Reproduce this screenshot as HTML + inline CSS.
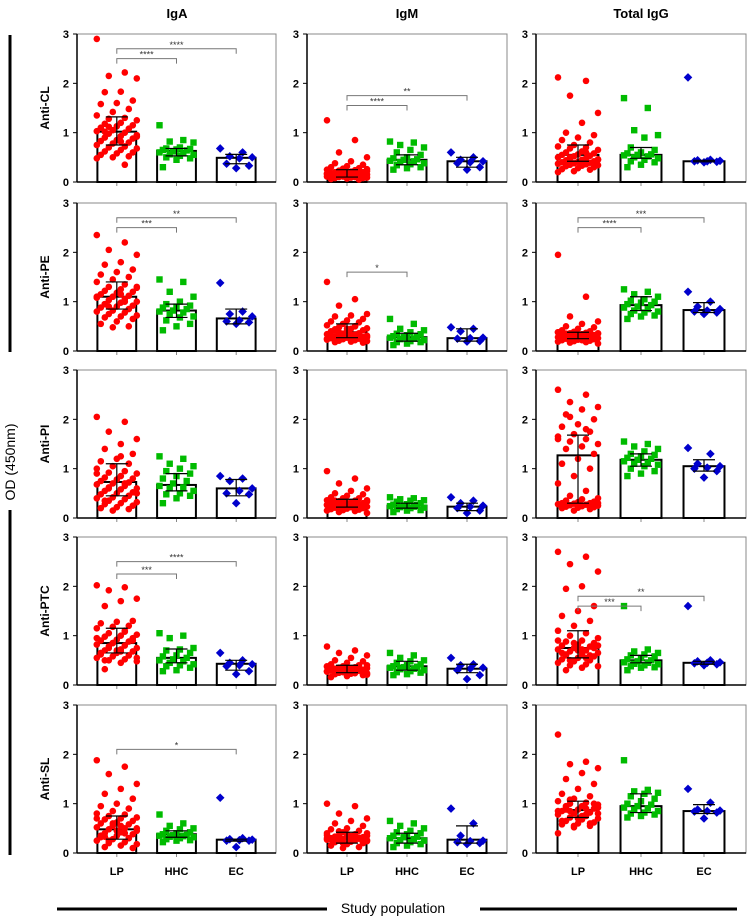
<!DOCTYPE html>
<html><head><meta charset="utf-8"><style>
html,body{margin:0;padding:0;background:#fff;}
svg{display:block;font-family:"Liberation Sans",Arial,sans-serif;}
</style></head><body>
<svg id="fig" width="751" height="921" viewBox="0 0 751 921" xmlns="http://www.w3.org/2000/svg">
<text x="177" y="18" font-size="13" font-weight="bold" text-anchor="middle">IgA</text>
<text x="407" y="18" font-size="13" font-weight="bold" text-anchor="middle">IgM</text>
<text x="641" y="18" font-size="13" font-weight="bold" text-anchor="middle">Total IgG</text>
<line x1="10" y1="35" x2="10" y2="352" stroke="#000" stroke-width="3"/>
<line x1="10" y1="510" x2="10" y2="855" stroke="#000" stroke-width="3"/>
<text transform="translate(15,462) rotate(-90)" font-size="14" text-anchor="middle">OD (450nm)</text>
<text x="393" y="913" font-size="14" text-anchor="middle">Study population</text>
<line x1="57" y1="909" x2="327" y2="909" stroke="#000" stroke-width="3"/>
<line x1="480" y1="909" x2="737" y2="909" stroke="#000" stroke-width="3"/>
<g id="panels"></g>
</svg>
<script>
const groups=["LP","HHC","EC"];
const rowLabels=["Anti-CL","Anti-PE","Anti-PI","Anti-PTC","Anti-SL"];
const yTicks=[0,1,2,3];
const yTickLabels=["0","1","2","3"];
const lpVals=[
[2.9,2.22,2.15,2.1,1.83,1.82,1.65,1.6,1.58,1.48,1.42,1.35,1.3,1.28,1.25,1.2,1.18,1.15,1.13,1.1,1.08,1.05,1.03,1.0,0.98,0.95,0.93,0.9,0.88,0.85,0.83,0.8,0.78,0.75,0.72,0.7,0.68,0.65,0.62,0.6,0.58,0.55,0.52,0.5,0.48,0.35,1.12,0.92,0.82,1.02],
[1.25,0.85,0.6,0.5,0.42,0.38,0.35,0.32,0.3,0.28,0.27,0.25,0.24,0.23,0.22,0.21,0.2,0.2,0.19,0.18,0.18,0.17,0.16,0.16,0.15,0.15,0.14,0.14,0.13,0.13,0.12,0.12,0.11,0.11,0.1,0.1,0.09,0.09,0.08,0.08,0.07,0.06,0.05,0.22,0.17,0.12,0.19,0.26,0.14,0.1],
[2.12,2.05,1.75,1.4,1.2,1.0,0.95,0.9,0.85,0.8,0.75,0.72,0.7,0.68,0.65,0.62,0.6,0.58,0.56,0.55,0.53,0.52,0.5,0.48,0.47,0.46,0.45,0.44,0.42,0.41,0.4,0.39,0.38,0.37,0.36,0.35,0.34,0.33,0.32,0.3,0.28,0.26,0.25,0.22,0.2,0.6,0.5,0.45,0.42,0.38],
[2.35,2.2,2.05,1.95,1.8,1.75,1.65,1.6,1.55,1.5,1.45,1.4,1.35,1.3,1.28,1.25,1.22,1.2,1.18,1.15,1.12,1.1,1.08,1.05,1.03,1.0,0.98,0.95,0.92,0.9,0.88,0.85,0.82,0.8,0.78,0.75,0.72,0.7,0.68,0.65,0.6,0.55,0.5,0.48,1.1,1.0,0.9,1.3,1.15,0.95],
[1.4,1.05,0.92,0.75,0.72,0.7,0.65,0.62,0.6,0.58,0.55,0.52,0.5,0.48,0.46,0.45,0.44,0.42,0.4,0.38,0.36,0.35,0.34,0.33,0.32,0.31,0.3,0.29,0.28,0.27,0.26,0.25,0.24,0.23,0.22,0.21,0.2,0.19,0.18,0.17,0.45,0.4,0.35,0.3,0.25,0.5,0.38,0.28,0.33,0.42],
[1.95,1.1,0.7,0.6,0.55,0.5,0.48,0.45,0.42,0.4,0.39,0.38,0.37,0.36,0.35,0.34,0.33,0.32,0.31,0.3,0.3,0.29,0.28,0.28,0.27,0.26,0.25,0.25,0.24,0.23,0.22,0.21,0.2,0.19,0.18,0.17,0.15,0.3,0.35,0.32,0.27,0.29,0.33,0.26,0.38,0.31,0.24,0.36,0.22,0.28],
[2.05,1.95,1.75,1.6,1.5,1.4,1.3,1.2,1.15,1.1,1.05,1.0,0.95,0.92,0.9,0.85,0.82,0.8,0.78,0.75,0.72,0.7,0.68,0.65,0.62,0.6,0.58,0.55,0.52,0.5,0.48,0.45,0.42,0.4,0.38,0.35,0.32,0.3,0.28,0.25,0.22,0.2,0.18,0.15,0.9,0.7,0.6,0.5,1.25,0.35],
[0.95,0.8,0.7,0.6,0.55,0.5,0.48,0.45,0.42,0.4,0.38,0.36,0.35,0.34,0.33,0.32,0.31,0.3,0.3,0.29,0.28,0.27,0.26,0.25,0.24,0.23,0.22,0.21,0.2,0.19,0.18,0.17,0.16,0.15,0.14,0.12,0.1,0.3,0.35,0.25,0.28,0.33,0.22,0.4,0.27,0.31,0.2,0.36,0.26,0.24],
[2.6,2.5,2.35,2.25,2.2,2.1,2.0,1.9,1.85,1.75,1.7,1.65,1.6,1.55,1.5,1.45,1.4,1.3,1.2,1.1,1.0,0.85,0.7,0.55,0.45,0.4,0.38,0.35,0.33,0.32,0.3,0.3,0.29,0.28,0.27,0.26,0.25,0.24,0.23,0.22,0.21,0.2,0.18,0.15,1.6,1.8,2.05,0.3,0.25,0.35],
[2.02,1.98,1.92,1.75,1.7,1.6,1.3,1.28,1.25,1.2,1.18,1.15,1.1,1.05,1.02,1.0,0.98,0.95,0.92,0.9,0.88,0.85,0.82,0.8,0.78,0.75,0.72,0.7,0.68,0.65,0.62,0.6,0.58,0.55,0.52,0.5,0.48,0.45,0.32,0.9,0.7,0.65,0.6,0.85,0.95,1.08,0.75,0.55,0.68,0.5],
[0.78,0.7,0.65,0.6,0.55,0.5,0.48,0.45,0.42,0.4,0.38,0.37,0.36,0.35,0.34,0.33,0.32,0.31,0.3,0.3,0.29,0.28,0.27,0.26,0.25,0.24,0.23,0.22,0.2,0.18,0.16,0.3,0.35,0.28,0.32,0.25,0.4,0.27,0.33,0.22,0.36,0.29,0.31,0.26,0.38,0.24,0.34,0.21,0.3,0.27],
[2.7,2.6,2.45,2.3,2.0,1.95,1.6,1.5,1.4,1.3,1.2,1.1,1.05,1.0,0.95,0.9,0.88,0.85,0.82,0.8,0.78,0.75,0.72,0.7,0.68,0.65,0.62,0.6,0.58,0.55,0.52,0.5,0.48,0.45,0.42,0.4,0.38,0.35,0.3,0.75,0.7,0.65,0.6,0.85,0.9,0.55,0.5,0.8,0.72,0.62],
[1.88,1.75,1.6,1.4,1.3,1.2,1.1,1.0,0.95,0.9,0.85,0.8,0.78,0.75,0.72,0.7,0.68,0.65,0.62,0.6,0.58,0.55,0.52,0.5,0.48,0.45,0.42,0.4,0.38,0.35,0.32,0.3,0.28,0.25,0.22,0.2,0.18,0.15,0.12,0.1,0.45,0.35,0.3,0.6,0.7,0.4,0.25,0.5,0.55,0.33],
[1.0,0.95,0.8,0.7,0.65,0.6,0.55,0.5,0.48,0.45,0.42,0.4,0.38,0.36,0.35,0.34,0.33,0.32,0.31,0.3,0.29,0.28,0.27,0.26,0.25,0.24,0.23,0.22,0.2,0.18,0.15,0.12,0.1,0.3,0.35,0.28,0.4,0.25,0.33,0.22,0.38,0.27,0.31,0.2,0.36,0.29,0.44,0.26,0.32,0.24],
[2.4,1.85,1.8,1.72,1.62,1.5,1.4,1.3,1.2,1.15,1.1,1.05,1.02,1.0,0.98,0.95,0.92,0.9,0.88,0.85,0.82,0.8,0.78,0.75,0.72,0.7,0.68,0.65,0.62,0.6,0.58,0.55,0.52,0.4,0.9,0.85,0.8,0.75,0.95,1.0,0.7,0.65,0.6,0.55,0.85,0.78,1.08,0.92,0.72,0.88]
];
const hhcVals=[
[1.15,0.85,0.82,0.8,0.7,0.68,0.67,0.66,0.65,0.64,0.62,0.6,0.58,0.56,0.55,0.53,0.5,0.48,0.45,0.3],
[0.82,0.8,0.75,0.7,0.65,0.6,0.55,0.5,0.48,0.46,0.45,0.43,0.42,0.4,0.38,0.36,0.34,0.3,0.28,0.25],
[1.7,1.5,1.05,0.95,0.9,0.7,0.65,0.6,0.58,0.56,0.55,0.54,0.52,0.5,0.48,0.45,0.42,0.4,0.35,0.3],
[1.45,1.4,1.2,1.1,1.0,0.95,0.92,0.9,0.88,0.85,0.82,0.8,0.78,0.75,0.7,0.68,0.62,0.55,0.5,0.42],
[0.65,0.55,0.45,0.42,0.38,0.35,0.34,0.32,0.3,0.29,0.28,0.27,0.25,0.24,0.22,0.2,0.18,0.18,0.15,0.12],
[1.25,1.2,1.15,1.1,1.05,1.02,1.0,0.98,0.95,0.93,0.9,0.88,0.85,0.82,0.8,0.78,0.75,0.72,0.7,0.65],
[1.25,1.2,1.1,1.05,1.0,0.95,0.9,0.85,0.8,0.75,0.7,0.65,0.62,0.6,0.55,0.5,0.48,0.45,0.4,0.3],
[0.42,0.4,0.38,0.36,0.35,0.33,0.3,0.28,0.27,0.26,0.25,0.24,0.23,0.22,0.21,0.2,0.18,0.16,0.15,0.12],
[1.55,1.5,1.45,1.4,1.35,1.3,1.28,1.25,1.22,1.2,1.18,1.15,1.12,1.1,1.08,1.05,1.0,0.95,0.9,0.85],
[1.05,1.0,0.95,0.75,0.72,0.7,0.65,0.6,0.58,0.55,0.52,0.5,0.48,0.45,0.42,0.4,0.38,0.35,0.3,0.28],
[0.65,0.6,0.55,0.5,0.48,0.45,0.42,0.4,0.38,0.37,0.36,0.35,0.33,0.32,0.3,0.28,0.26,0.25,0.22,0.2],
[1.6,0.72,0.68,0.65,0.62,0.6,0.58,0.55,0.52,0.5,0.48,0.46,0.45,0.43,0.42,0.4,0.38,0.36,0.35,0.3],
[0.78,0.6,0.55,0.5,0.48,0.45,0.42,0.4,0.38,0.37,0.36,0.35,0.34,0.33,0.32,0.3,0.28,0.26,0.25,0.22],
[0.65,0.6,0.55,0.5,0.45,0.42,0.4,0.38,0.35,0.33,0.32,0.3,0.28,0.26,0.25,0.22,0.2,0.18,0.15,0.12],
[1.88,1.28,1.25,1.22,1.2,1.15,1.1,1.05,1.0,0.98,0.95,0.92,0.9,0.88,0.85,0.82,0.8,0.78,0.75,0.72]
];
const ecVals=[
[0.68,0.6,0.52,0.5,0.48,0.37,0.33,0.28],
[0.6,0.5,0.45,0.42,0.4,0.38,0.3,0.25],
[2.12,0.45,0.44,0.43,0.42,0.42,0.41,0.4],
[1.38,0.8,0.75,0.7,0.62,0.6,0.58,0.55],
[0.48,0.45,0.4,0.27,0.26,0.25,0.2,0.19],
[1.2,1.0,0.9,0.85,0.82,0.8,0.78,0.75],
[0.85,0.8,0.75,0.6,0.55,0.5,0.48,0.3],
[0.42,0.35,0.3,0.25,0.23,0.2,0.15,0.1],
[1.42,1.3,1.1,1.05,1.02,1.0,0.95,0.82],
[0.65,0.5,0.45,0.42,0.4,0.38,0.28,0.22],
[0.55,0.42,0.4,0.35,0.33,0.3,0.2,0.12],
[1.6,0.5,0.48,0.46,0.45,0.44,0.42,0.4],
[1.12,0.3,0.28,0.27,0.26,0.25,0.25,0.12],
[0.9,0.6,0.35,0.25,0.24,0.22,0.2,0.18],
[1.3,1.02,0.88,0.86,0.85,0.84,0.82,0.7]
];
const barVals=[[1.02,0.63,0.49],[0.17,0.45,0.42],[0.55,0.55,0.42],[1.1,0.82,0.66],[0.38,0.28,0.26],[0.32,0.93,0.83],[0.73,0.67,0.6],[0.3,0.25,0.23],[1.27,1.18,1.05],[0.85,0.55,0.43],[0.32,0.38,0.33],[0.75,0.5,0.45],[0.48,0.38,0.27],[0.32,0.3,0.27],[0.87,0.95,0.85]];
const errLo=[[0.75,0.53,0.37],[0.1,0.35,0.3],[0.42,0.48,0.41],[0.85,0.68,0.55],[0.27,0.2,0.2],[0.25,0.82,0.78],[0.45,0.55,0.45],[0.22,0.2,0.15],[0.3,1.05,0.95],[0.65,0.45,0.3],[0.25,0.3,0.25],[0.55,0.45,0.42],[0.28,0.32,0.24],[0.2,0.2,0.2],[0.72,0.82,0.8]];
const errHi=[[1.32,0.68,0.56],[0.25,0.55,0.5],[0.75,0.7,0.44],[1.4,0.95,0.85],[0.55,0.36,0.45],[0.38,1.1,0.98],[1.1,0.9,0.78],[0.38,0.3,0.3],[1.68,1.3,1.18],[1.15,0.73,0.5],[0.4,0.48,0.42],[1.1,0.6,0.48],[0.75,0.45,0.28],[0.42,0.4,0.55],[1.05,1.2,0.98]];
const sigPanel=[0,0,1,1,3,3,4,5,5,9,9,11,11,12];
const sigTarget=[1,2,1,2,1,2,1,1,2,1,2,1,2,2];
const sigY=[2.5,2.7,1.55,1.75,2.5,2.7,1.6,2.5,2.7,2.25,2.5,1.6,1.8,2.1];
const sigLabel=["****","****","****","**","***","**","*","****","***","***","****","***","**","*"];

const colX=[77,307,536], colW=[199,200,210];
const rowT=[34,203,370,537,705], plotH=148;
const colors=["#ff0000","#00bb00","#0000cc"];
const NS="http://www.w3.org/2000/svg";
const root=document.getElementById("panels");
function mk(tag,attrs,parent){const e=document.createElementNS(NS,tag);for(const k in attrs)e.setAttribute(k,attrs[k]);(parent||root).appendChild(e);return e;}

for(let p=0;p<15;p++){
  const r=Math.floor(p/3), c=p%3;
  const x0=colX[c], w=colW[c], top=rowT[r], bot=top+plotH;
  const yS=v=>bot-v/3*plotH;
  const xS=g=>x0+w*(0.2+0.3*g);
  const bw=w*0.195;
  const g=mk("g",{});
  
  
  const fr=mk("rect",{x:x0,y:top,width:w,height:plotH,fill:"none",stroke:"#888","stroke-width":1},g);
  
  
  const ya=mk("line",{x1:x0,y1:top,x2:x0,y2:bot,stroke:"#000","stroke-width":1.5},g);
  
  
  const xa=mk("line",{x1:x0,y1:bot,x2:x0+w,y2:bot,stroke:"#000","stroke-width":1.5},g);
  
  
  yTicks.forEach((t,i)=>{
    const tk=mk("line",{x1:x0-4,y1:yS(t),x2:x0,y2:yS(t),stroke:"#000","stroke-width":1},g);
    
    
    const tl=mk("text",{x:x0-8,y:yS(t)+4,"font-size":11,"font-weight":"bold","text-anchor":"end"},g);
    tl.textContent=yTickLabels[i];
    
    
  });
  if(c===0){
    const rl=mk("text",{transform:`translate(${x0-28},${(top+bot)/2}) rotate(-90)`,"font-size":12,"font-weight":"bold","text-anchor":"middle"},g);
    rl.textContent=rowLabels[r];
    
    
  }
  const sets=[lpVals[p],hhcVals[p],ecVals[p]];
  for(let k=0;k<3;k++){
    const cx=xS(k);
    const xt=mk("line",{x1:cx,y1:bot,x2:cx,y2:bot+4,stroke:"#888","stroke-width":1},g);
    
    
    if(r===4){
      const xl=mk("text",{x:cx,y:bot+22,"font-size":11,"font-weight":"bold","text-anchor":"middle"},g);
      xl.textContent=groups[k];
      
      
    }
    const b=mk("rect",{x:cx-bw/2,y:yS(barVals[p][k]),width:bw,height:bot-yS(barVals[p][k]),fill:"#fff",stroke:"#000","stroke-width":2},g);
    
    
    const vals=sets[k], hw=k===0?20:(k===1?17:16);
    vals.forEach((v,i)=>{
      const px=cx+(((i*7)%11)-5)/5*hw, py=yS(v);
      let m;
      if(k===0) m=mk("circle",{cx:px,cy:py,r:3.3,fill:colors[0]},g);
      else if(k===1) m=mk("rect",{x:px-3.2,y:py-3.2,width:6.4,height:6.4,fill:colors[1]},g);
      else m=mk("polygon",{points:`${px},${py-4.3} ${px+4.3},${py} ${px},${py+4.3} ${px-4.3},${py}`,fill:colors[2]},g);
      
      
    });
  }
  for(let k=0;k<3;k++){
    const cx=xS(k), lo=yS(errLo[p][k]), hi=yS(errHi[p][k]);
    const eb=mk("path",{d:`M${cx},${lo}V${hi}M${cx-11},${lo}H${cx+11}M${cx-11},${hi}H${cx+11}`,stroke:"#000","stroke-width":1.2,fill:"none"},g);
    
    
  }
  sigPanel.forEach((sp,i)=>{
    if(sp!==p)return;
    const a=xS(0), bx=xS(sigTarget[i]), y=yS(sigY[i]);
    const br=mk("path",{d:`M${a},${y+5}V${y}H${bx}V${y+5}`,stroke:"#777","stroke-width":1,fill:"none"},g);
    
    
    const st=mk("text",{x:(a+bx)/2,y:y-1,"font-size":9,"text-anchor":"middle",fill:"#333"},g);
    st.textContent=sigLabel[i];
    
    
  });
}
</script>
</body></html>
